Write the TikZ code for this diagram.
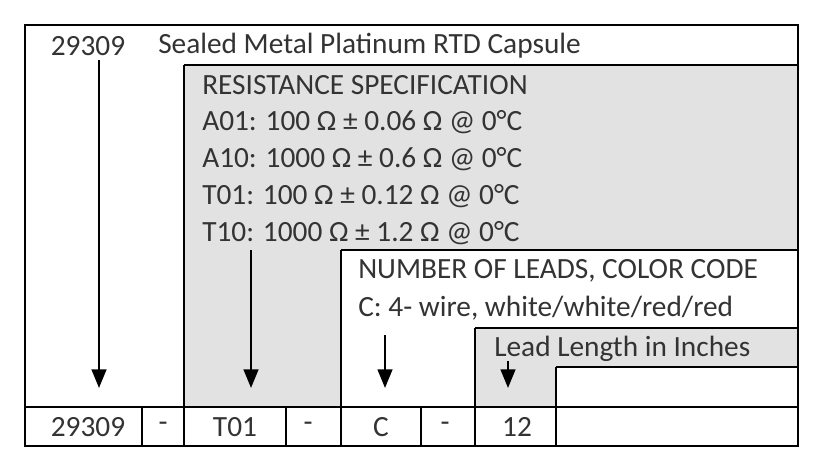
\documentclass[tikz,border=0pt]{standalone}
\usepackage{fontspec}
\setmainfont{Carlito}
\usetikzlibrary{arrows.meta}
\begin{document}
\begin{tikzpicture}[x=0.75pt,y=-0.75pt,
  txt/.style={text=black!80,font=\fontsize{22}{26}\selectfont,inner sep=0pt},
  lt/.style={txt,anchor=west},
  ln/.style={draw=black,line width=0.9pt},
  arr/.style={-{Triangle[length=14pt,width=11pt]},line width=1.8pt}]
\useasboundingbox (0,0) rectangle (830,472);
\fill[white] (0,0) rectangle (830,472);
\definecolor{gr}{HTML}{E2E2E2}
\fill[gr] (184,65) rectangle (798,250);
\fill[gr] (184,250) rectangle (341,407);
\fill[gr] (475,328) rectangle (798,367);
\fill[gr] (475,367) rectangle (556,407);
% lines
\draw[ln] (25,25) rectangle (798,446);
\draw[ln] (25,407) -- (798,407);
\foreach \x in {142,286,421} \draw[ln] (\x,407) -- (\x,446);
\draw[ln] (184,65) -- (798,65);
\draw[ln] (184,65) -- (184,446);
\draw[ln] (341,250) -- (798,250);
\draw[ln] (341,250) -- (341,446);
\draw[ln] (475,328) -- (798,328);
\draw[ln] (475,328) -- (475,446);
\draw[ln] (556,367) -- (798,367);
\draw[ln] (556,367) -- (556,446);
% texts
\node[txt] (t0) at (88,46) {29309};
\node[lt] (t1) at (158,46) {Sealed Metal Platinum RTD Capsule};
\node[lt] (r0) at (202,85) {RESISTANCE SPECIFICATION};
\node[lt] (r1) at (202,122) {A01: 100 Ω ± 0.06 Ω @ 0°C};
\node[lt] (r2) at (202,159) {A10: 1000 Ω ± 0.6 Ω @ 0°C};
\node[lt] (r3) at (202,196) {T01: 100 Ω ± 0.12 Ω @ 0°C};
\node[lt] (r4) at (202,233) {T10: 1000 Ω ± 1.2 Ω @ 0°C};
\node[lt] (n0) at (358,271) {NUMBER OF LEADS, COLOR CODE};
\node[lt] (n1) at (358,308) {C: 4- wire, white/white/red/red};
\node[lt] (l0) at (494,349) {Lead Length in Inches};
\node[txt] (b1) at (88,427) {29309};
\node[txt] (b2) at (163,427) {-};
\node[txt] (b3) at (235,427) {T01};
\node[txt] (b4) at (308,427) {-};
\node[txt] (b5) at (381,427) {C};
\node[txt] (b6) at (445,427) {-};
\node[txt] (b7) at (517,427) {12};
\coordinate (s1) at (99,60);
\coordinate (s2) at (251,250);
\coordinate (s3) at (385,335);
\coordinate (s4) at (508,361);
\coordinate (e1) at (99,388);
\coordinate (e2) at (251,388);
\coordinate (e3) at (385,388);
\coordinate (e4) at (508,388);
\draw[arr] (s1) -- (e1);
\draw[arr] (s2) -- (e2);
\draw[arr] (s3) -- (e3);
\draw[arr] (s4) -- (e4);
\end{tikzpicture}
\end{document}
